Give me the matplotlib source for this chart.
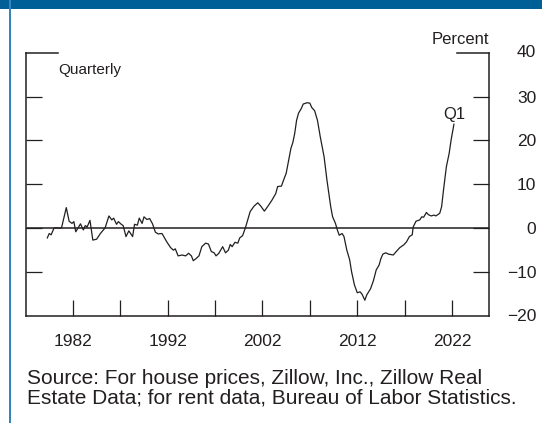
import matplotlib
matplotlib.use("Agg")
import matplotlib.pyplot as plt
from matplotlib.patches import Rectangle

matplotlib.rcParams['font.family'] = ['Liberation Sans', 'DejaVu Sans']

# ── data ──────────────────────────────────────────────────────
years = [
    1979.3, 1979.5, 1979.7, 1980.0, 1980.2, 1980.6, 1980.8, 1981.3, 1981.6, 1981.9,
    1982.1, 1982.3, 1982.6, 1982.8, 1983.1, 1983.3, 1983.5, 1983.8, 1984.1, 1984.5,
    1984.9, 1985.4, 1985.8, 1986.1, 1986.3, 1986.6, 1986.8, 1987.1, 1987.3, 1987.6,
    1987.9, 1988.3, 1988.5, 1988.8, 1989.0, 1989.3, 1989.5, 1989.8, 1990.1, 1990.4,
    1990.7, 1991.0, 1991.4, 1991.9, 1992.3, 1992.6, 1992.8, 1993.1, 1993.5, 1993.9,
    1994.2, 1994.5, 1994.7, 1995.0, 1995.3, 1995.6, 1996.0, 1996.3, 1996.6, 1996.9,
    1997.1, 1997.4, 1997.8, 1998.1, 1998.4, 1998.6, 1998.8, 1999.1, 1999.4, 1999.6,
    1999.9, 2000.2, 2000.4, 2000.7, 2001.1, 2001.5, 2001.8, 2002.2, 2002.6, 2003.0,
    2003.4, 2003.6, 2004.0, 2004.3, 2004.5, 2004.7, 2005.0, 2005.2, 2005.4, 2005.6,
    2005.8, 2006.1, 2006.3, 2006.7, 2007.0, 2007.2, 2007.5, 2007.8, 2008.1, 2008.5,
    2008.8, 2009.2, 2009.4, 2009.7, 2009.9, 2010.1, 2010.4, 2010.6, 2010.9, 2011.2,
    2011.4, 2011.7, 2012.0, 2012.3, 2012.5, 2012.8, 2013.0, 2013.4, 2013.7, 2014.0,
    2014.3, 2014.5, 2014.7, 2015.0, 2015.3, 2015.8, 2016.2, 2016.5, 2016.9, 2017.2,
    2017.5, 2017.8, 2017.9, 2018.2, 2018.6, 2018.8, 2019.0, 2019.3, 2019.5, 2019.8,
    2020.1, 2020.3, 2020.7, 2020.9, 2021.1, 2021.4, 2021.7, 2021.9, 2022.2,
]
growth = [
    -2.2, -1.2, -1.5, 0.0, 0.1, 0.0, 0.1, 4.7, 1.6, 1.1,
    1.5, -0.8, 0.3, 1.0, -0.4, 0.6, 0.3, 1.8, -2.7, -2.5,
    -1.2, 0.1, 2.8, 1.9, 2.3, 0.9, 1.5, 0.9, 0.6, -1.9,
    -0.6, -1.9, 0.9, 0.7, 2.3, 1.1, 2.6, 2.0, 2.2, 1.0,
    -0.9, -1.3, -1.2, -3.1, -4.4, -5.0, -4.7, -6.3, -6.1, -6.3,
    -5.7, -6.3, -7.4, -6.9, -6.3, -4.2, -3.4, -3.6, -5.3, -5.6,
    -6.3, -5.7, -4.2, -5.6, -5.0, -3.7, -4.2, -3.2, -3.4, -2.2,
    -1.7, 0.1, 1.6, 3.8, 5.0, 5.8, 5.1, 3.9, 5.1, 6.4,
    7.9, 9.5, 9.6, 11.4, 12.5, 14.8, 18.2, 19.5, 21.6, 24.6,
    26.2, 27.3, 28.3, 28.6, 28.5, 27.5, 26.8, 24.6, 20.8, 16.3,
    11.0, 4.9, 2.6, 1.1, -0.4, -1.6, -1.2, -1.9, -5.0, -7.2,
    -9.9, -12.9, -14.7, -14.5, -15.0, -16.4, -15.2, -13.8, -12.0, -9.5,
    -8.4, -6.9, -5.9, -5.6, -5.9, -6.1, -5.1, -4.4, -3.8, -3.1,
    -1.9, -1.5, 0.3, 1.6, 1.9, 2.6, 2.5, 3.6, 3.1, 2.8,
    3.0, 2.8, 3.4, 4.9, 8.7, 14.0, 17.1, 20.1, 23.7,
]
year_ticks = [1982, 1992, 2002, 2012, 2022]
minor_year_ticks = [1987, 1997, 2007, 2017]
pct_ticks = [-20, -10, 0, 10, 20, 30, 40]
source_text = ("Source: For house prices, Zillow, Inc., Zillow Real\n"
               "Estate Data; for rent data, Bureau of Labor Statistics.")

INK = "#231f20"

fig = plt.figure(figsize=(5.42, 4.23), dpi=100)
ax = fig.add_axes([26 / 542, 1 - 316 / 423, 463 / 542, 263.3 / 423])

# frame decoration: blue band on top, thin blue rule on the left
fig.add_artist(Rectangle((0, 1 - 9.5 / 423), 1, 9.5 / 423, transform=fig.transFigure,
                         color="#005f97", lw=0))
fig.add_artist(Rectangle((9 / 542, 0), 2 / 542, 1, transform=fig.transFigure,
                         color="#3585bd", lw=0))

ax.plot(years, growth, color=INK, lw=0.9)
ax.axhline(0, color=INK, lw=1.1)

ax.set_xlim(1977.05, 2025.9)
ax.set_ylim(-20, 40)

ax.spines['top'].set_visible(False)
for s in ['left', 'right', 'bottom']:
    ax.spines[s].set_color(INK)
    ax.spines[s].set_linewidth(1.1)

ax.set_xticks(year_ticks)
ax.set_xticks(minor_year_ticks, minor=True)
ax.set_xticklabels([str(y) for y in year_ticks])
ax.tick_params(axis='x', which='both', direction='in', length=11.5, width=0.9,
               color=INK, pad=13, labelsize=12.5, labelcolor=INK)

ax.set_yticks(pct_ticks[1:-1])
ax.set_yticklabels([f"{v}".replace('-', '\u2212') for v in pct_ticks[1:-1]])
ax.tick_params(axis='y', which='both', direction='in', length=11.5, width=0.9,
               color=INK, left=True, right=True, labelleft=False, labelright=True,
               pad=34, labelsize=12.5, labelcolor=INK)
for lab in ax.get_yticklabels():
    lab.set_horizontalalignment('right')

# 40 and -20 labels sit on the frame ends
for v in (pct_ticks[0], pct_ticks[-1]):
    ax.annotate(f"{v}".replace('-', '\u2212'), xy=(1, v), xycoords=('axes fraction', 'data'),
                xytext=(34, 0), textcoords='offset points', ha='right', va='center',
                fontsize=12.5, color=INK)

# longer corner ticks at the top of the frame
ax.plot([0, 32 / 463], [1, 1], transform=ax.transAxes, color=INK, lw=1.1, clip_on=False)
ax.plot([1 - 32 / 463, 1], [1, 1], transform=ax.transAxes, color=INK, lw=1.1, clip_on=False)

ax.text(32 / 463, 0.935, "Quarterly", transform=ax.transAxes, ha='left', va='center',
        fontsize=11, color=INK)
ax.text(1, 1.05, "Percent", transform=ax.transAxes, ha='right', va='center',
        fontsize=12, color=INK)
ax.annotate("Q1", xy=(years[-1], growth[-1]), xytext=(0, 1.5), textcoords='offset points',
            ha='center', va='bottom', fontsize=12, color=INK)

fig.text(27 / 542, 1 - 369 / 423, source_text, ha='left', va='top', fontsize=15,
         color=INK, linespacing=1.06)

plt.savefig("out.png", dpi=100)
